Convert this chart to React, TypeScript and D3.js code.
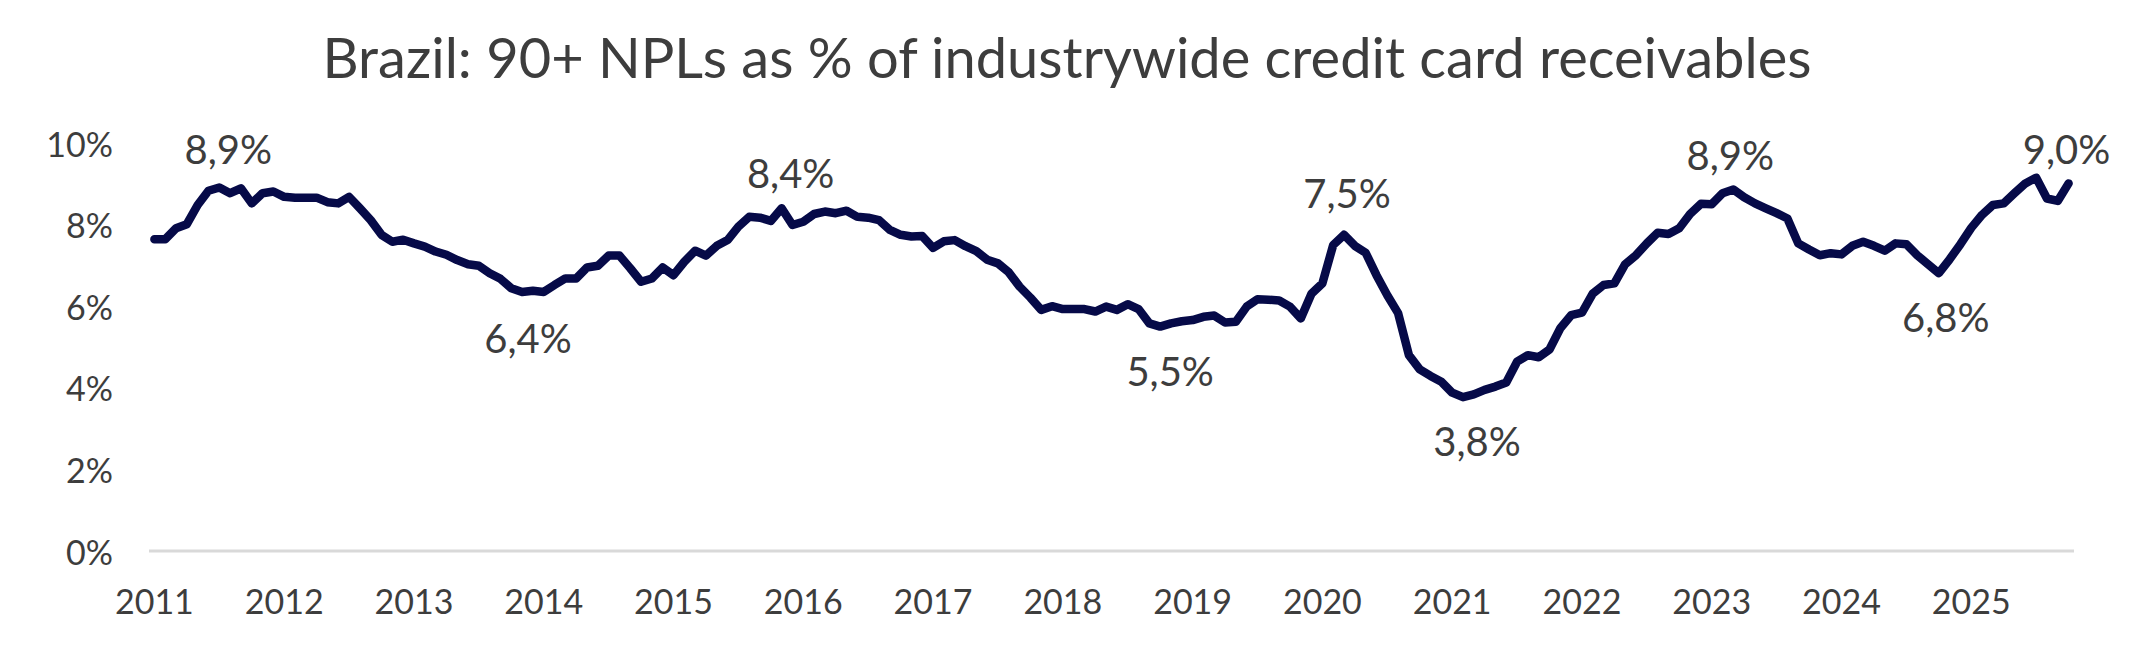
import React from 'react';
import * as d3 from 'd3';

const title = 'Brazil: 90+ NPLs as % of industrywide credit card receivables';

// Monthly 90+ NPL ratio (%), Jan 2011 .. Oct 2025
const npl: number[] = [
  7.64, 7.64, 7.91, 8.01, 8.48, 8.83, 8.91, 8.77, 8.89, 8.52, 8.77, 8.81,
  8.68, 8.66, 8.66, 8.66, 8.55, 8.52, 8.68, 8.40, 8.11, 7.75, 7.58, 7.63,
  7.54, 7.46, 7.34, 7.26, 7.13, 7.03, 6.99, 6.81, 6.67, 6.44, 6.35, 6.38,
  6.35, 6.52, 6.68, 6.68, 6.95, 6.99, 7.24, 7.24, 6.93, 6.60, 6.68, 6.95,
  6.76, 7.09, 7.36, 7.24, 7.48, 7.62, 7.95, 8.19, 8.17, 8.09, 8.40, 7.99,
  8.07, 8.26, 8.32, 8.28, 8.34, 8.19, 8.17, 8.11, 7.87, 7.75, 7.71, 7.72,
  7.43, 7.59, 7.62, 7.47, 7.35, 7.14, 7.05, 6.83, 6.48, 6.21, 5.91, 6.00,
  5.93, 5.93, 5.93, 5.87, 5.99, 5.91, 6.05, 5.93, 5.58, 5.50, 5.58, 5.63,
  5.66, 5.74, 5.77, 5.60, 5.62, 5.99, 6.17, 6.16, 6.14, 5.99, 5.70, 6.31,
  6.56, 7.50, 7.75, 7.48, 7.31, 6.76, 6.27, 5.83, 4.80, 4.45, 4.29, 4.15,
  3.88, 3.77, 3.84, 3.95, 4.03, 4.13, 4.64, 4.80, 4.75, 4.94, 5.46, 5.78,
  5.84, 6.31, 6.52, 6.56, 7.03, 7.25, 7.54, 7.80, 7.77, 7.91, 8.26, 8.51,
  8.50, 8.77, 8.86, 8.67, 8.52, 8.40, 8.28, 8.15, 7.54, 7.39, 7.25, 7.30,
  7.27, 7.48, 7.58, 7.48, 7.36, 7.54, 7.52, 7.25, 7.03, 6.81, 7.15, 7.52,
  7.92, 8.24, 8.48, 8.52, 8.77, 9.01, 9.15, 8.64, 8.58, 9.01,
];

const startYear = 2011;
const months: string[] = npl.map(
  (_, i) => `${startYear + Math.floor(i / 12)}-${String((i % 12) + 1).padStart(2, '0')}`
);

const yearLabels = [
  '2011', '2012', '2013', '2014', '2015', '2016', '2017', '2018',
  '2019', '2020', '2021', '2022', '2023', '2024', '2025',
];

const yTicks = [0, 2, 4, 6, 8, 10];

// Annotated points: month index and label text
const annotationIdx = [6, 34, 58, 93, 110, 121, 146, 165, 177];
const annotationText = ['8,9%', '6,4%', '8,4%', '5,5%', '7,5%', '3,8%', '8,9%', '6,8%', '9,0%'];

// layout offsets (px) for the annotation labels
const annotationDx = [9, 6, 9, 10, 3, 14, -3, 7, -2];
const annotationDy = [-38, 46, -35, 44, -42, 44, -35, 44, -34];

const W = 2134;
const H = 652;
const TEXT = '#3d3d3d';
const LINE = '#060a48';
const FONT = 'Lato, "Open Sans", sans-serif';

export default function App() {
  const x = d3.scalePoint<string>().domain(months).range([149, 2074]).padding(0.5);
  const y = d3.scaleLinear().domain([0, 10]).range([551, 143]);

  const line = d3
    .line<number>()
    .x((_, i) => x(months[i]) as number)
    .y((d) => y(d));

  const [x0, x1] = x.range();

  return (
    <svg
      width={W}
      height={H}
      viewBox={`0 0 ${W} ${H}`}
      style={{ position: 'absolute', left: 0, top: 0, background: '#fff' }}
    >
      <rect x={0} y={0} width={W} height={H} fill="#fff" />
      <text
        x={W / 2}
        y={56}
        textAnchor="middle"
        dominantBaseline="central"
        fontFamily={FONT}
        fontSize={56}
        fill={TEXT}
      >
        {title}
      </text>

      {yTicks.map((t) => (
        <text
          key={t}
          x={113}
          y={y(t)}
          textAnchor="end"
          dominantBaseline="central"
          fontFamily={FONT}
          fontSize={34}
          fill={TEXT}
        >
          {`${t}%`}
        </text>
      ))}

      <line x1={x0} x2={x1} y1={y(0)} y2={y(0)} stroke="#d9d9d9" strokeWidth={3} />

      {yearLabels.map((lab, k) => (
        <text
          key={lab}
          x={x(months[k * 12]) as number}
          y={600}
          textAnchor="middle"
          dominantBaseline="central"
          fontFamily={FONT}
          fontSize={34}
          fill={TEXT}
        >
          {lab}
        </text>
      ))}

      <path
        d={line(npl) || ''}
        fill="none"
        stroke={LINE}
        strokeWidth={8.5}
        strokeLinejoin="round"
        strokeLinecap="round"
      />

      {annotationIdx.map((idx, k) => (
        <text
          key={k}
          x={(x(months[idx]) as number) + annotationDx[k]}
          y={y(npl[idx]) + annotationDy[k]}
          textAnchor="middle"
          dominantBaseline="central"
          fontFamily={FONT}
          fontSize={40}
          fill={TEXT}
        >
          {annotationText[k]}
        </text>
      ))}
    </svg>
  );
}
